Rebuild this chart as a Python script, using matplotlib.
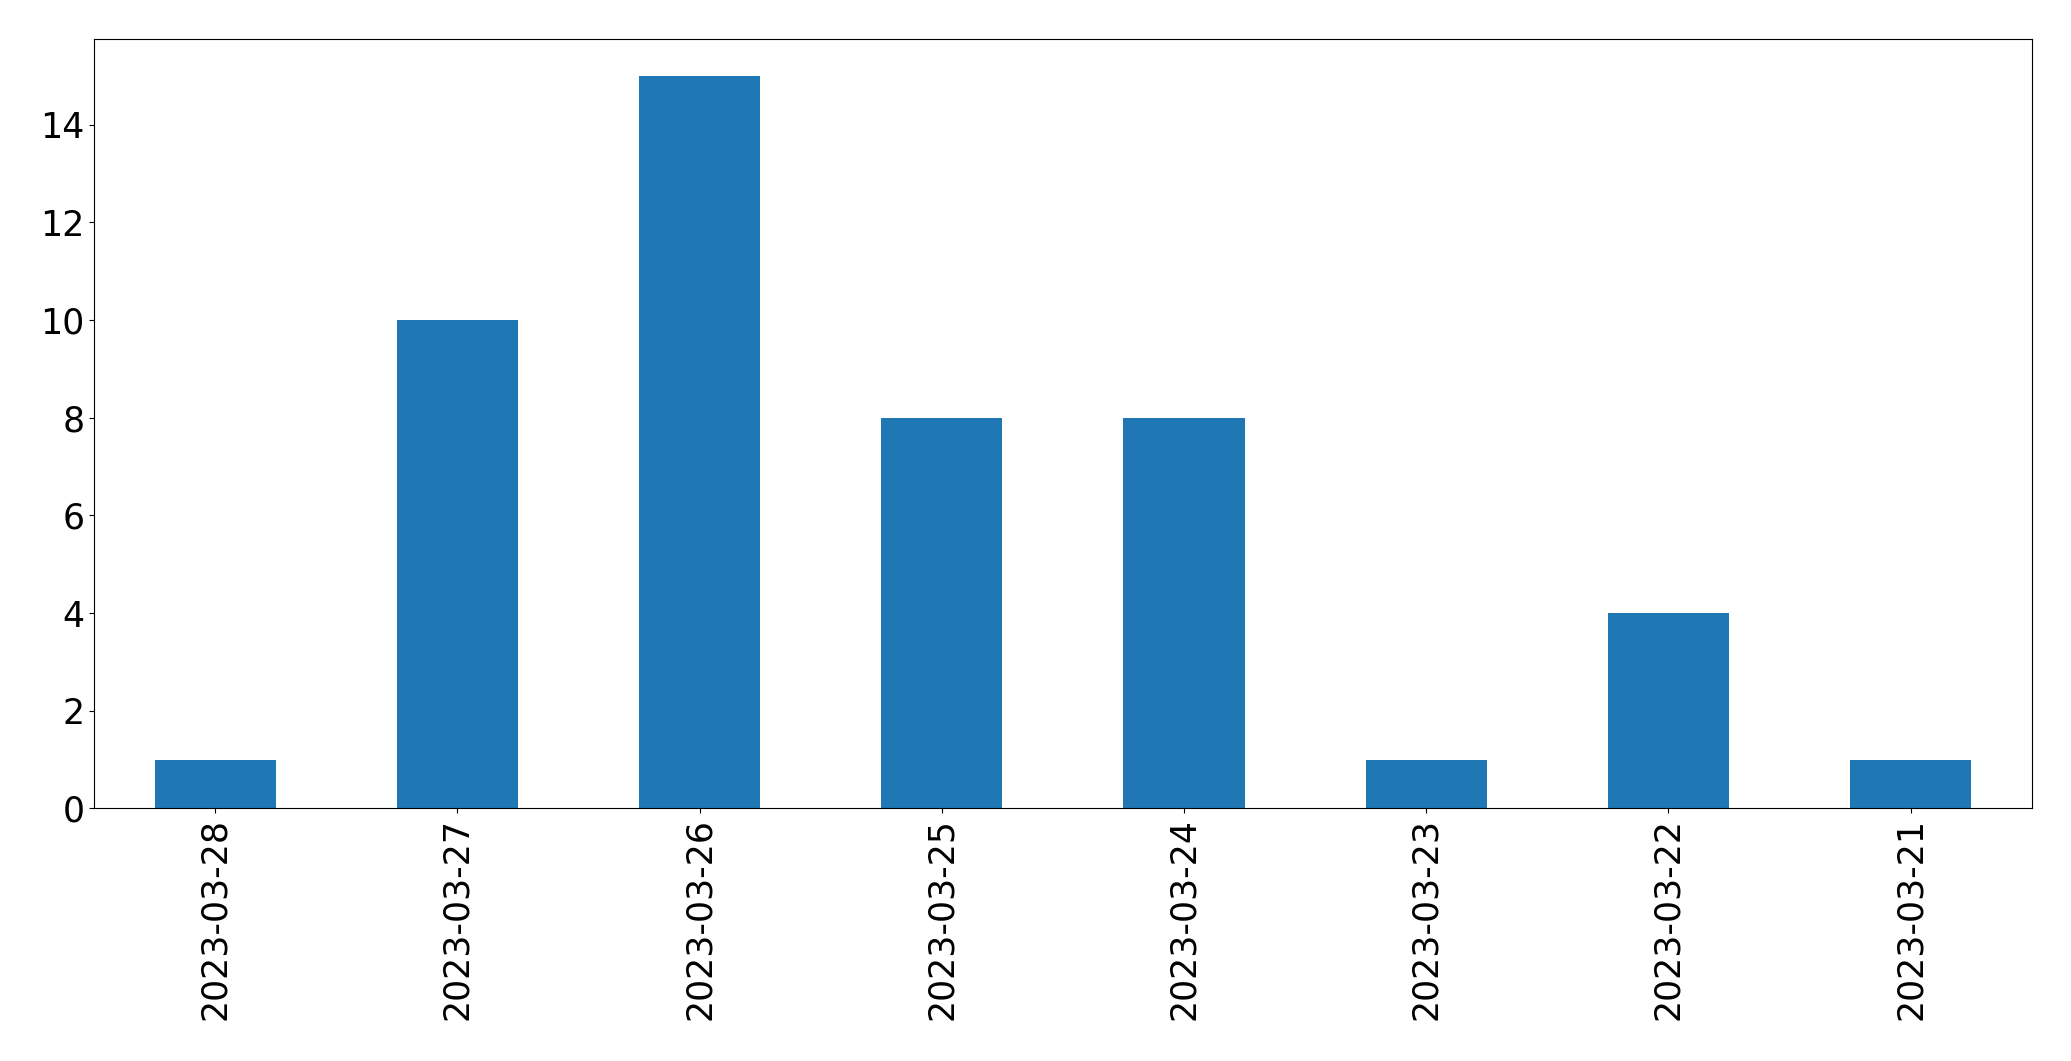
import matplotlib
matplotlib.use("Agg")
import matplotlib.pyplot as plt
import numpy as np

dates = ["2023-03-28", "2023-03-27", "2023-03-26", "2023-03-25",
         "2023-03-24", "2023-03-23", "2023-03-22", "2023-03-21"]
counts = [1, 10, 15, 8, 8, 1, 4, 1]

fig, ax = plt.subplots(figsize=(20.71, 10.61), dpi=100)
x = np.arange(len(dates))
ax.bar(x, counts, width=0.5, color="#1f77b4")
ax.set_xlim(-0.5, len(dates) - 0.5)
ax.set_xticks(x)
ax.set_xticklabels(dates, rotation=90)
ax.tick_params(labelsize=25)

plt.subplots_adjust(left=0.0455, right=0.981, top=0.963, bottom=0.238)
fig.savefig("out.png", dpi=100)
